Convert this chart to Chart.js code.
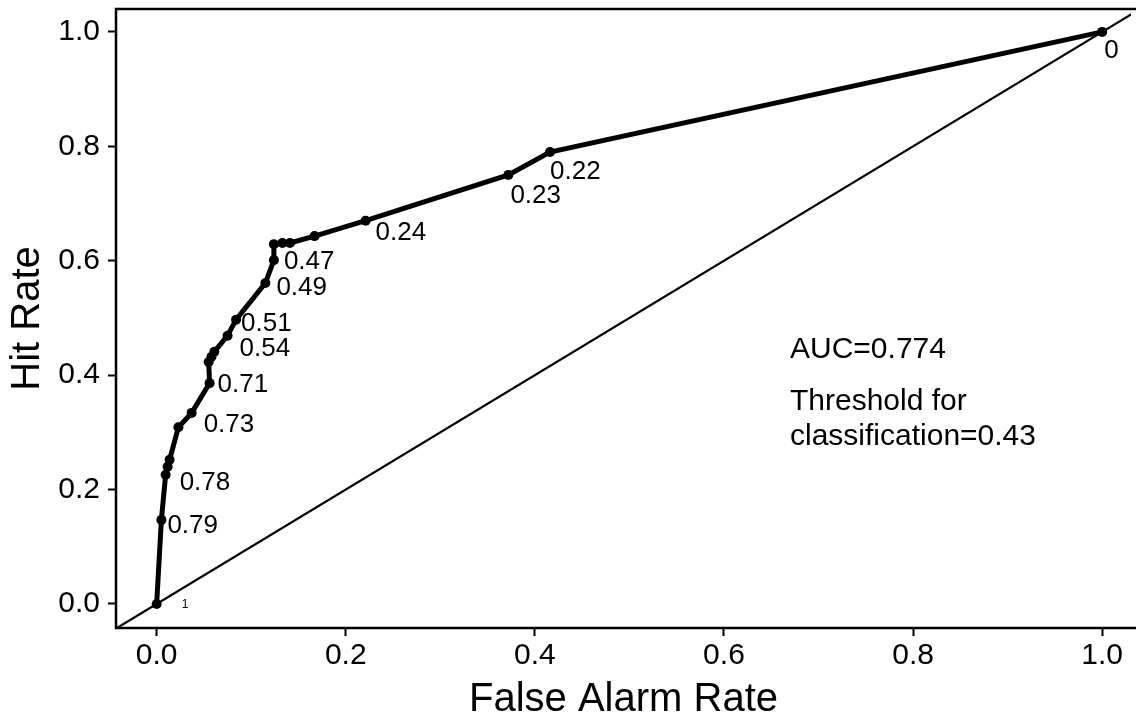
<!DOCTYPE html>
<html>
<head>
<meta charset="utf-8">
<script src="https://cdn.jsdelivr.net/npm/chart.js@4/dist/chart.umd.min.js"></script>
<style>
  html, body { margin: 0; padding: 0; background: #fff; }
  #wrap { width: 1136px; height: 721px; }
</style>
</head>
<body>
<div id="wrap"><canvas id="roc" width="1136" height="721"></canvas></div>
<script>
// ROC curve data
var falseAlarm = [0, 0.005, 0.0095, 0.0116, 0.0137, 0.023, 0.037, 0.056, 0.055, 0.058, 0.061, 0.075, 0.084, 0.115, 0.124, 0.124, 0.133, 0.141, 0.167, 0.221, 0.372, 0.416, 1];
var hitRate = [0, 0.147, 0.226, 0.240, 0.252, 0.309, 0.334, 0.386, 0.423, 0.432, 0.441, 0.469, 0.497, 0.561, 0.601, 0.629, 0.631, 0.631, 0.643, 0.670, 0.750, 0.790, 1];
var thresholds = ['1', '0.79', '0.78', '', '', '', '0.73', '0.71', '', '', '', '0.54', '0.51', '0.49', '0.47', '', '', '', '', '0.24', '0.23', '0.22', '0'];
var xTicks = [0, 0.2, 0.4, 0.6, 0.8, 1.0];
var yTicks = [0, 0.2, 0.4, 0.6, 0.8, 1.0];
var notes = ['AUC=0.774', 'Threshold for', 'classification=0.43'];

var FONT = '"Liberation Sans", Arial, Helvetica, sans-serif';

// pixel offsets of each threshold label from its point (left edge, baseline)
var labelOffsets = {
    0: [25, 4], 1: [6, 13], 2: [14, 15], 6: [12, 19], 7: [8, 9], 11: [12, 20],
    12: [5, 11], 13: [11, 12], 14: [10, 9], 19: [10, 19], 20: [2, 28], 21: [0, 27], 22: [2, 26]
};

var rocPoints = falseAlarm.map(function (x, i) { return { x: x, y: hitRate[i] }; });

// box (top, left, bottom) plus threshold labels and notes
var annotate = {
    id: 'annotate',
    afterDatasetsDraw: function (chart) {
        var ctx = chart.ctx;
        var a = chart.chartArea;
        ctx.save();
        ctx.strokeStyle = '#000';
        ctx.lineWidth = 2.5;
        ctx.beginPath();
        ctx.moveTo(chart.width + 5, a.top);
        ctx.lineTo(a.left, a.top);
        ctx.lineTo(a.left, a.bottom);
        ctx.lineTo(chart.width + 5, a.bottom);
        ctx.stroke();

        var meta = chart.getDatasetMeta(0);
        ctx.fillStyle = '#000';
        ctx.textBaseline = 'alphabetic';
        ctx.textAlign = 'left';
        thresholds.forEach(function (t, i) {
            if (!t) return;
            var pt = meta.data[i];
            var off = labelOffsets[i] || [8, 10];
            ctx.font = (t === '1' ? '12px ' : '26px ') + FONT;
            ctx.fillText(t, pt.x + off[0], pt.y + off[1]);
        });

        ctx.font = '30px ' + FONT;
        ctx.fillText(notes[0], 790, 358);
        ctx.fillText(notes[1], 790, 410);
        ctx.fillText(notes[2], 790, 445);
        ctx.restore();
    }
};

new Chart(document.getElementById('roc'), {
    type: 'scatter',
    data: {
        datasets: [{
            data: rocPoints,
            showLine: true,
            borderColor: '#000',
            backgroundColor: '#000',
            borderWidth: 5,
            pointRadius: 5,
            pointBorderWidth: 0,
            order: 1
        }, {
            data: [{ x: -0.1, y: -0.1 }, { x: 1.1, y: 1.1 }],
            showLine: true,
            borderColor: '#000',
            borderWidth: 2.2,
            pointRadius: 0,
            order: 2
        }]
    },
    options: {
        responsive: false,
        animation: false,
        layout: { padding: { top: 9, right: 0, left: 0, bottom: 0 } },
        plugins: { legend: { display: false }, tooltip: { enabled: false } },
        scales: {
            x: {
                type: 'linear',
                min: -0.043,
                max: 1.0305,
                afterBuildTicks: function (s) { s.ticks = xTicks.map(function (v) { return { value: v }; }); },
                afterFit: function (s) { s.height = 93; s.paddingLeft = 0; s.paddingRight = 0; },
                grid: { drawOnChartArea: false, drawTicks: true, tickLength: 8, tickColor: '#000', tickWidth: 2 },
                border: { display: false },
                ticks: {
                    color: '#000', padding: 2, maxRotation: 0,
                    font: { family: FONT, size: 30 },
                    callback: function (v) { return v.toFixed(1); }
                },
                title: {
                    display: true, text: 'False Alarm Rate', color: '#000',
                    font: { family: FONT, size: 40, lineHeight: 1 },
                    padding: { top: 0, bottom: 1 }
                }
            },
            y: {
                type: 'linear',
                min: -0.042,
                max: 1.040,
                afterBuildTicks: function (s) { s.ticks = yTicks.map(function (v) { return { value: v }; }); },
                afterFit: function (s) { s.width = 116; s.paddingTop = 0; s.paddingBottom = 0; },
                grid: { drawOnChartArea: false, drawTicks: true, tickLength: 8, tickColor: '#000', tickWidth: 2 },
                border: { display: false },
                ticks: {
                    color: '#000', padding: 8,
                    font: { family: FONT, size: 30 },
                    callback: function (v) { return v.toFixed(1); }
                },
                title: {
                    display: true, text: 'Hit Rate', color: '#000',
                    font: { family: FONT, size: 40, lineHeight: 1 },
                    padding: { top: 8, bottom: 0 }
                }
            }
        }
    },
    plugins: [annotate]
});
</script>
</body>
</html>
